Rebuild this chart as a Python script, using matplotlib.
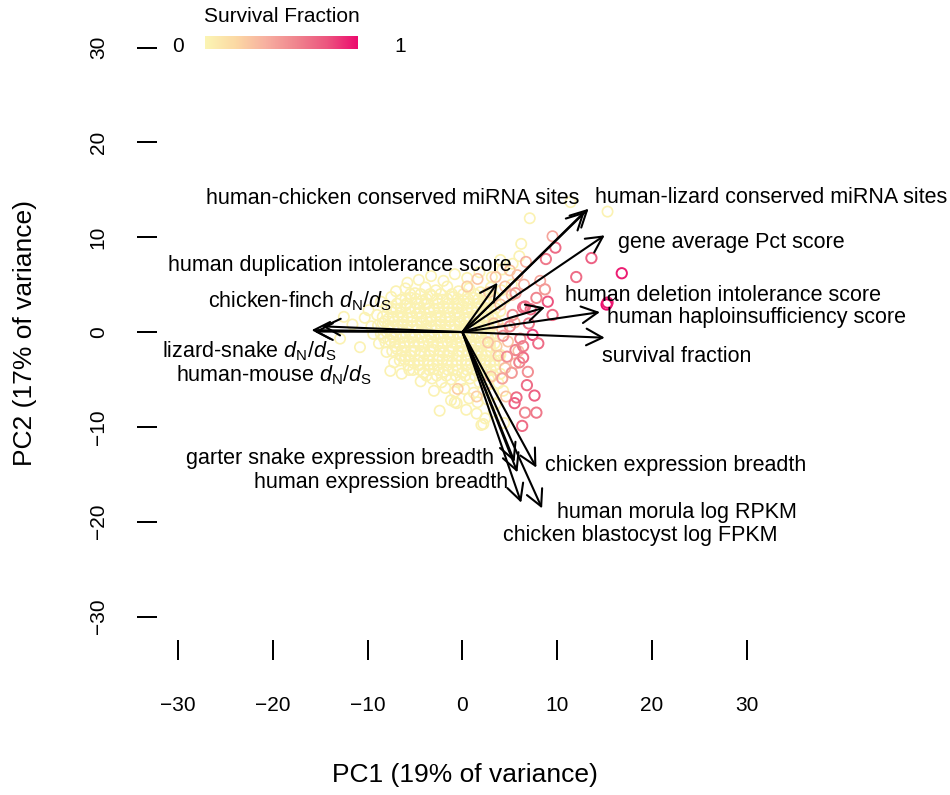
import matplotlib
matplotlib.use("Agg")
import matplotlib.pyplot as plt
from matplotlib.colors import LinearSegmentedColormap
import numpy as np

plt.rcParams["font.family"] = ["Liberation Sans", "DejaVu Sans"]
plt.rcParams["mathtext.fontset"] = "custom"
plt.rcParams["mathtext.rm"] = "Liberation Sans"
plt.rcParams["mathtext.it"] = "Liberation Sans:italic"

# gene scores projected on PC1 / PC2, by survival group
pale_pts = [
    # top of the cloud
    (-5.8, 5.2), (-4.6, 5.5), (-3.3, 5.9), (-2.0, 5.4), (-0.8, 6.1), (0.5, 5.7), (1.8, 6.3),
    (3.1, 5.8), (4.2, 6.6), (5.3, 7.2), (4.0, 7.6), (6.0, 8.0),
    (-7.0, 4.3), (-6.0, 4.6), (-5.0, 4.1), (-3.9, 4.7), (-2.8, 4.4), (-1.6, 4.8), (-0.4, 4.3),
    (0.7, 4.6), (1.9, 4.2), (3.0, 4.7), (4.1, 4.4), (5.2, 5.0),
    (-8.6, 3.2), (-7.5, 3.7), (-6.5, 3.4), (-5.4, 3.6), (-4.3, 3.3), (-3.2, 3.8), (-2.1, 3.4),
    (-1.0, 3.7), (0.1, 3.3), (1.2, 3.6), (2.3, 3.2), (3.4, 3.7), (4.5, 3.5),
    (-9.9, 2.3), (-8.0, 2.7), (-7.0, 2.4), (-6.0, 2.8), (-5.0, 2.5), (-4.0, 2.9), (-3.0, 2.4),
    (-2.0, 2.7), (-1.0, 2.5), (0.0, 2.8), (1.0, 2.4), (2.0, 2.7), (3.0, 2.5), (4.0, 2.2),
    (-10.3, 1.5), (-9.0, 1.8), (-7.8, 1.4), (-6.8, 1.7), (-5.8, 1.5), (-4.8, 1.9), (-3.8, 1.4),
    (-2.8, 1.7), (-1.8, 1.5), (-0.8, 1.8), (0.2, 1.4), (1.2, 1.7), (2.2, 1.5), (3.2, 1.8),
    (-11.6, 0.8), (-9.6, 0.6), (-8.4, 0.9), (-7.3, 0.5), (-6.3, 0.8), (-5.3, 0.6), (-4.3, 0.9),
    (-3.3, 0.5), (-2.3, 0.8), (-1.3, 0.6), (-0.3, 0.9), (0.7, 0.5), (1.7, 0.8), (2.7, 0.6), (3.7, 1.0),
    (-9.4, -0.2), (-8.0, 0.0), (-7.0, -0.3), (-6.0, -0.1), (-5.0, -0.4), (-4.0, 0.0), (-3.0, -0.3),
    (-2.0, -0.1), (-1.0, -0.4), (0.0, -0.1), (1.0, -0.3), (2.0, 0.0), (3.0, -0.4),
    (-8.8, -1.2), (-7.6, -0.9), (-6.6, -1.3), (-5.6, -1.0), (-4.6, -1.2), (-3.6, -0.9), (-2.6, -1.3),
    (-1.6, -1.0), (-0.6, -1.2), (0.4, -0.9), (1.4, -1.3), (2.4, -1.0), (3.4, -1.2),
    (-8.0, -2.1), (-6.9, -1.8), (-6.0, -2.6), (-5.0, -2.0), (-4.0, -2.3), (-3.0, -1.9), (-2.0, -2.2),
    (-1.0, -1.8), (0.0, -2.1), (1.0, -1.9), (2.0, -2.3), (3.0, -2.0), (4.0, -2.4),
    (-7.2, -3.2), (-6.1, -2.9), (-5.1, -3.3), (-4.1, -3.0), (-3.1, -3.4), (-2.1, -2.9), (-1.1, -3.2),
    (-0.1, -3.0), (0.9, -3.3), (1.9, -2.9), (2.9, -3.2), (3.9, -3.0),
    (-6.4, -4.4), (-5.2, -4.0), (-4.1, -4.3), (-3.0, -3.9), (-2.0, -4.2), (-1.0, -4.0), (0.0, -4.3),
    (1.0, -3.9), (2.0, -4.2), (3.0, -4.0), (4.0, -4.4),
    (-4.4, -5.2), (-3.2, -4.9), (-2.2, -5.3), (-1.2, -5.0), (-0.2, -5.2), (0.8, -4.9), (1.8, -5.3),
    (2.8, -5.0), (3.8, -5.4),
    (-3.0, -6.2), (-1.8, -5.9), (-0.8, -6.3), (0.2, -6.0), (1.2, -6.4), (2.2, -6.1), (3.2, -6.5), (4.3, -6.2),
    (-1.2, -7.2), (-0.6, -7.5), (0.7, -7.0), (1.6, -7.4), (2.6, -7.1), (3.5, -7.6),
    (0.4, -8.2), (1.5, -8.6), (2.4, -9.1), (3.3, -8.4), (4.4, -9.6), (2.0, -9.8),
    # stragglers
    (11.4, 13.7), (15.3, 12.7), (7.1, 12.0), (-12.5, 1.6), (-12.9, -0.7), (-0.8, -7.4), (2.2, -9.7),
    (-10.8, -1.6), (-7.6, -4.1), (-2.4, -8.3), (6.2, 9.3),
]

# dense core of the cloud, one row per PC2 level
core_rows = [
    (4.0, [-5.5, -4.4, -3.4, -2.3, -1.1, 0.1, 1.3, 2.5]),
    (3.5, [-6.0, -4.9, -3.8, -2.7, -1.6, -0.5, 0.6, 1.7, 2.8]),
    (3.0, [-6.9, -5.9, -4.8, -3.7, -2.6, -1.5, -0.5, 0.6, 1.7, 2.8]),
    (2.5, [-7.5, -6.5, -5.5, -4.5, -3.5, -2.5, -1.5, -0.5, 0.5, 1.5, 2.5, 3.5]),
    (2.1, [-7.4, -6.5, -5.5, -4.5, -3.5, -2.5, -1.5, -0.5, 0.5, 1.5, 2.6]),
    (1.6, [-8.4, -7.3, -6.3, -5.3, -4.3, -3.3, -2.3, -1.3, -0.3, 0.7, 1.7, 2.7]),
    (1.1, [-8.2, -7.2, -6.3, -5.3, -4.3, -3.3, -2.3, -1.3, -0.3, 0.7, 1.7, 2.7]),
    (0.7, [-8.9, -7.8, -6.8, -5.8, -4.8, -3.8, -2.8, -1.8, -0.8, 0.2, 1.2, 2.2, 3.2]),
    (0.3, [-7.8, -6.8, -5.8, -4.8, -3.8, -2.8, -1.8, -0.8, 0.2, 1.2, 2.2]),
    (-0.2, [-8.6, -7.5, -6.5, -5.5, -4.5, -3.5, -2.5, -1.5, -0.5, 0.5, 1.5, 2.5]),
    (-0.6, [-8.3, -7.3, -6.3, -5.3, -4.3, -3.3, -2.3, -1.3, -0.3, 0.7, 1.7, 2.7]),
    (-1.1, [-8.1, -7.1, -6.1, -5.1, -4.1, -3.1, -2.1, -1.1, -0.1, 0.9, 1.9, 2.9]),
    (-1.5, [-7.1, -6.1, -5.1, -4.1, -3.1, -2.1, -1.1, -0.1, 0.9, 1.9, 2.9]),
    (-2.0, [-7.4, -6.4, -5.4, -4.4, -3.4, -2.4, -1.4, -0.4, 0.6, 1.6, 2.6]),
    (-2.5, [-6.5, -5.5, -4.5, -3.5, -2.5, -1.5, -0.5, 0.5, 1.5, 2.5, 3.5]),
    (-3.0, [-6.6, -5.6, -4.6, -3.6, -2.6, -1.6, -0.6, 0.4, 1.4, 2.4, 3.4]),
    (-3.5, [-5.7, -4.6, -3.6, -2.6, -1.6, -0.6, 0.4, 1.4, 2.4, 3.4]),
    (-4.0, [-5.6, -4.5, -3.5, -2.5, -1.5, -0.5, 0.5, 1.5, 2.5, 3.5]),
    (-4.6, [-3.8, -2.7, -1.7, -0.7, 0.3, 1.3, 2.3, 3.3]),
]

mid_pts = [
    (3.5, 5.8), (4.5, 4.8), (5.2, 3.9), (4.0, 2.9), (5.5, 1.0), (4.8, -1.0), (3.8, -2.5), (4.5, -3.8),
    (2.5, -5.5), (3.0, -4.7), (5.8, 6.0), (6.5, 5.0), (5.0, 6.5), (2.8, 4.2), (3.6, -1.5), (4.2, 0.3),
    (5.9, -2.0), (5.6, -3.3), (4.6, -6.8), (1.5, -6.8), (1.6, 5.6), (0.5, 4.8), (3.3, 0.9), (2.7, -1.1),
    (-0.5, -6.0), (9.5, 10.1), (6.7, 7.4), (8.2, 5.4),
]
mid_surv = [
    0.30, 0.30, 0.35, 0.30, 0.35, 0.30, 0.30, 0.35,
    0.30, 0.30, 0.35, 0.40, 0.30, 0.25, 0.25, 0.30,
    0.35, 0.35, 0.30, 0.25, 0.30, 0.25, 0.30, 0.30,
    0.25, 0.45, 0.40, 0.45,
]

pink_pts = [
    (9.8, 8.9), (8.8, 7.7), (13.6, 7.8), (16.8, 6.2), (12.0, 5.8), (8.7, 4.5), (9.0, 3.2), (15.2, 2.9),
    (15.3, 3.1), (9.5, 1.8), (6.4, 2.6), (7.4, -0.3), (6.4, -1.5), (6.4, -2.7), (6.8, -5.6), (7.6, -6.7),
    (5.7, -6.9), (5.5, -7.5), (7.8, -8.5), (6.6, -8.5), (6.3, -9.9), (6.6, 2.7), (5.0, 0.6), (4.3, -0.4),
    (6.1, -0.7), (5.6, -1.9), (4.7, -2.6), (5.2, -4.3), (4.2, -4.9), (7.2, 2.4), (7.8, 3.6), (5.6, 4.1),
    (6.0, -3.2), (5.3, 1.8), (7.0, 0.9), (8.0, -1.2), (6.9, -4.2),
]
pink_surv = [
    0.70, 0.65, 0.75, 0.95, 0.70, 0.50, 0.80, 1.00,
    0.95, 0.70, 0.70, 0.85, 0.65, 0.70, 0.70, 0.75,
    0.70, 0.75, 0.65, 0.60, 0.70, 0.70, 0.60, 0.55,
    0.60, 0.60, 0.55, 0.50, 0.45, 0.70, 0.60, 0.50,
    0.60, 0.55, 0.65, 0.70, 0.55,
]

# variable loadings (arrow tips)
var_names = [
    "human-chicken conserved miRNA sites", "human-lizard conserved miRNA sites",
    "gene average Pct score", "human duplication intolerance score",
    r"chicken-finch $d_{\mathrm{N}}/d_{\mathrm{S}}$", "human deletion intolerance score",
    "human haploinsufficiency score", "survival fraction",
    r"lizard-snake $d_{\mathrm{N}}/d_{\mathrm{S}}$", r"human-mouse $d_{\mathrm{N}}/d_{\mathrm{S}}$",
    "garter snake expression breadth", "human expression breadth",
    "chicken expression breadth", "human morula log RPKM", "chicken blastocyst log FPKM",
]
load_pc1 = [12.9, 13.3, 15.0, 3.7, -14.8, 8.7, 14.5, 15.0, -15.9, -15.6, 5.5, 5.8, 7.8, 8.4, 6.2]
load_pc2 = [12.7, 13.0, 10.2, 5.2, 0.6, 2.6, 2.1, -0.6, 0.2, 0.05, -13.7, -14.8, -14.3, -18.6, -18.0]

# where each label sits (layout)
label_xy = [
    (-7.3, 14.1), (32.5, 14.2), (28.3, 9.4), (-12.9, 7.0), (-17.1, 3.2), (27.5, 3.9),
    (31.0, 1.5), (22.6, -2.6), (-22.5, -2.0), (-19.9, -4.6), (-12.9, -13.3), (-8.6, -15.9),
    (22.5, -14.1), (22.6, -19.0), (18.8, -21.5),
]

cmap = LinearSegmentedColormap.from_list(
    "surv", ["#FBF5B4", "#FCD9A4", "#F7AFA0", "#F0848E", "#EC557F", "#EC0A6E"])

fig = plt.figure(figsize=(9.5, 7.95), dpi=100)
ax = fig.add_axes([157 / 950, 0.1947, 0.8207, 0.7932])

core_x = [x for y, xs in core_rows for x in xs]
core_y = [y for y, xs in core_rows for x in xs]
pale = np.array(pale_pts)
pale_x = np.concatenate([pale[:, 0], core_x])
pale_y = np.concatenate([pale[:, 1], core_y])
ax.scatter(pale_x, pale_y, s=55, facecolors="none",
           edgecolors=cmap(np.full(len(pale_x), 0.02)), linewidths=1.2)
mid = np.array(mid_pts)
ax.scatter(mid[:, 0], mid[:, 1], s=55, facecolors="none",
           edgecolors=cmap(np.array(mid_surv)), linewidths=1.2)
pink = np.array(pink_pts)
ax.scatter(pink[:, 0], pink[:, 1], s=55, facecolors="none",
           edgecolors=cmap(np.array(pink_surv)), linewidths=1.4)

for name, px, py, (lx, ly) in zip(var_names, load_pc1, load_pc2, label_xy):
    ax.annotate("", xy=(px, py), xytext=(0, 0),
                arrowprops=dict(arrowstyle="->,head_length=0.58,head_width=0.3",
                                lw=1.5, color="black", mutation_scale=20,
                                shrinkA=0, shrinkB=0))
    ax.text(lx, ly, name, ha="center", va="center", fontsize=15.5)

ax.set_xlim(-32.2, 50)
ax.set_ylim(-32.5, 34)
for sp in ax.spines.values():
    sp.set_visible(False)
ax.set_xticks([-30, -20, -10, 0, 10, 20, 30])
ax.set_yticks([-30, -20, -10, 0, 10, 20, 30])
ax.tick_params(axis="both", direction="out", length=14.4, width=1.44, labelsize=15)
ax.tick_params(axis="x", pad=26)
ax.tick_params(axis="y", pad=21)
for lab in ax.get_yticklabels():
    lab.set_rotation(90)
    lab.set_va("center")

fig.text(465 / 950, 1 - 775 / 795, "PC1 (19% of variance)", ha="center", va="center", fontsize=19)
fig.text(25 / 950, 1 - 333 / 795, "PC2 (17% of variance)", ha="center", va="center",
         rotation=90, fontsize=19)

# colour key
cax = fig.add_axes([205 / 950, 1 - 49 / 795, 153 / 950, 13 / 795])
cax.imshow(np.linspace(0, 1, 256)[None, :], aspect="auto", cmap=cmap)
cax.axis("off")
fig.text(282 / 950, 1 - 16 / 795, "Survival Fraction", ha="center", va="center", fontsize=15)
fig.text(178 / 950, 1 - 46 / 795, "0", ha="center", va="center", fontsize=15)
fig.text(400 / 950, 1 - 46 / 795, "1", ha="center", va="center", fontsize=15)

fig.savefig("out.png", dpi=100)
